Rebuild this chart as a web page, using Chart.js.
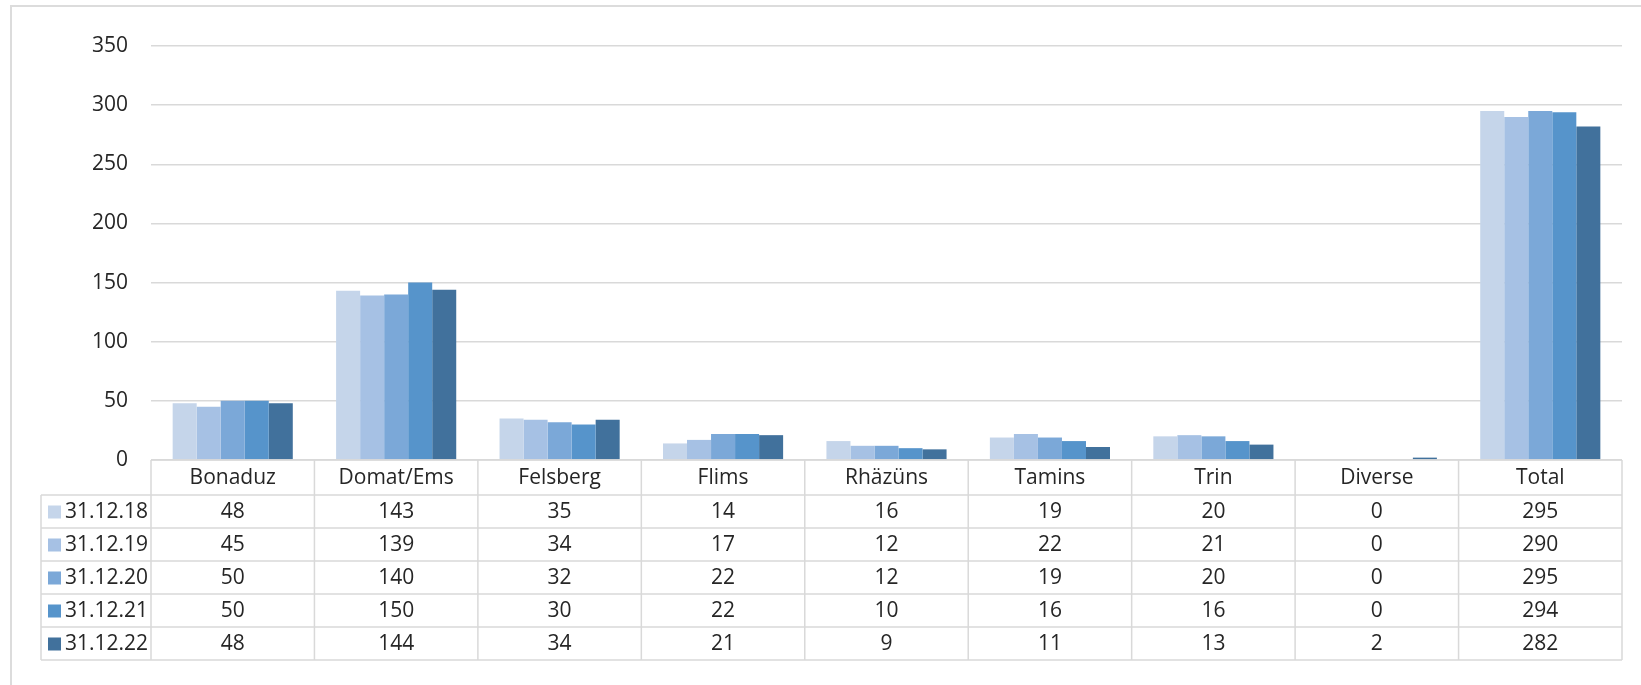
<!DOCTYPE html>
<html>
<head>
<meta charset="utf-8">
<script src="https://cdn.jsdelivr.net/npm/chart.js@4"></script>
<style>
  html, body { margin: 0; padding: 0; background: #fff; }
  #wrap { width: 1641px; height: 685px; }
</style>
</head>
<body>
<div id="wrap"><canvas id="chart" width="1641" height="685"></canvas></div>
<script>
// Data
const categories = ["Bonaduz", "Domat/Ems", "Felsberg", "Flims", "Rhäzüns", "Tamins", "Trin", "Diverse", "Total"];
const seriesLabels = ["31.12.18", "31.12.19", "31.12.20", "31.12.21", "31.12.22"];
const values2018 = [48, 143, 35, 14, 16, 19, 20, 0, 295];
const values2019 = [45, 139, 34, 17, 12, 22, 21, 0, 290];
const values2020 = [50, 140, 32, 22, 12, 19, 20, 0, 295];
const values2021 = [50, 150, 30, 22, 10, 16, 16, 0, 294];
const values2022 = [48, 144, 34, 21, 9, 11, 13, 2, 282];
const seriesValues = [values2018, values2019, values2020, values2021, values2022];
const colors = ["#c5d5ea", "#a6c1e4", "#7ba8d8", "#5694cb", "#41719c"];
const yMax = 350;
const yStep = 50;

const FONT = "'Open Sans', sans-serif";
const TEXT = "#262626";
const LINE = "#d9d9d9";

// draws the frame and the data table under the bars
const tablePlugin = {
  id: "dataTable",
  afterDraw(chart) {
    const ctx = chart.ctx;
    const area = chart.chartArea;
    const xs = chart.scales.x;
    const colW = (area.right - area.left) / categories.length;
    const top = area.bottom;
    const headH = 35;
    const rowH = 33;
    const leftX = 41;
    const bottom = top + headH + rowH * seriesLabels.length;

    ctx.save();
    // outer frame
    ctx.strokeStyle = "#dcdcdc";
    ctx.lineWidth = 2;
    ctx.beginPath();
    ctx.moveTo(11, 685);
    ctx.lineTo(11, 6);
    ctx.lineTo(1641, 6);
    ctx.stroke();

    // table grid
    ctx.strokeStyle = LINE;
    ctx.lineWidth = 1.5;
    ctx.beginPath();
    ctx.moveTo(area.left, top);
    ctx.lineTo(area.right, top);
    for (let r = 0; r <= seriesLabels.length; r++) {
      const y = top + headH + r * rowH;
      ctx.moveTo(leftX, y);
      ctx.lineTo(area.right, y);
    }
    for (let c = 0; c <= categories.length; c++) {
      const x = area.left + c * colW;
      ctx.moveTo(x, top);
      ctx.lineTo(x, bottom);
    }
    ctx.moveTo(leftX, top + headH);
    ctx.lineTo(leftX, bottom);
    ctx.stroke();

    // header
    ctx.fillStyle = TEXT;
    ctx.font = "21px " + FONT;
    ctx.textAlign = "center";
    ctx.textBaseline = "middle";
    categories.forEach((c, i) => {
      ctx.fillText(c, xs.getPixelForValue(i), top + headH / 2 + 1);
    });

    // rows
    seriesLabels.forEach((lab, r) => {
      const cy = top + headH + r * rowH + rowH / 2 + 1;
      ctx.fillStyle = colors[r];
      ctx.fillRect(48, cy - 7, 13, 13);
      ctx.fillStyle = TEXT;
      ctx.textAlign = "left";
      ctx.fillText(lab, 65, cy);
      ctx.textAlign = "center";
      seriesValues[r].forEach((v, i) => {
        ctx.fillText(String(v), xs.getPixelForValue(i), cy);
      });
    });
    ctx.restore();
  }
};

const ctx = document.getElementById("chart");
new Chart(ctx, {
  type: "bar",
  data: {
    labels: categories,
    datasets: seriesLabels.map((lab, i) => ({
      label: lab,
      data: seriesValues[i],
      backgroundColor: colors[i],
      borderWidth: 0,
      categoryPercentage: 0.735,
      barPercentage: 1
    }))
  },
  options: {
    responsive: false,
    animation: false,
    layout: { padding: { left: 11, top: 46, right: 19, bottom: 225 } },
    plugins: { legend: { display: false }, tooltip: { enabled: false } },
    scales: {
      x: { display: false },
      y: {
        min: 0,
        max: yMax,
        afterFit: (s) => { s.width = 140; },
        ticks: { stepSize: yStep, padding: 23, color: TEXT, font: { family: FONT, size: 21 } },
        grid: { color: LINE, lineWidth: 1.5, drawTicks: false },
        border: { display: false }
      }
    }
  },
  plugins: [tablePlugin]
});
</script>
</body>
</html>
